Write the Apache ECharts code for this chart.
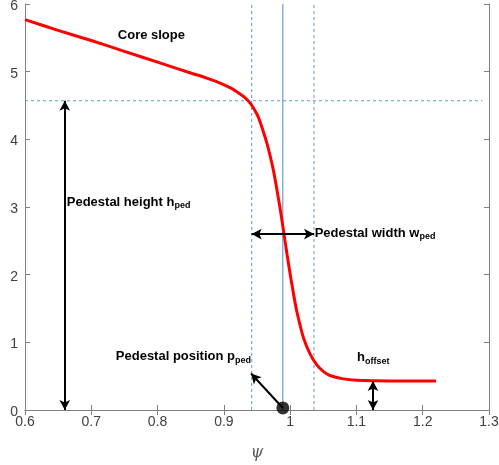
<!DOCTYPE html>
<html>
<head>
<meta charset="utf-8">
<script src="https://cdn.jsdelivr.net/npm/echarts@6/dist/echarts.min.js"></script>
<style>
  html, body { margin: 0; padding: 0; background: #fff; }
  #chart { width: 499px; height: 465px; }
</style>
</head>
<body>
<div id="chart"></div>
<script>
// profile
var psi = [0.60, 0.65, 0.70, 0.75, 0.80, 0.85, 0.87, 0.89, 0.91, 0.92, 0.93, 0.94, 0.95, 0.955, 0.96, 0.965, 0.97, 0.975, 0.98, 0.985, 0.99, 0.995, 1.00, 1.005, 1.01, 1.02, 1.03, 1.04, 1.05, 1.06, 1.08, 1.10, 1.15, 1.22];
var profile = [5.77, 5.61, 5.46, 5.30, 5.14, 4.98, 4.92, 4.85, 4.76, 4.70, 4.63, 4.53, 4.37, 4.25, 4.10, 3.94, 3.75, 3.53, 3.26, 2.97, 2.65, 2.32, 2.01, 1.72, 1.46, 1.07, 0.83, 0.67, 0.57, 0.51, 0.46, 0.44, 0.43, 0.43];

var xTicks = [0.6, 0.7, 0.8, 0.9, 1.0, 1.1, 1.2, 1.3];
var yTicks = [0, 1, 2, 3, 4, 5, 6];

var pedPos = 0.989;
var pedLeft = 0.942;
var pedRight = 1.036;
var pedHeight = 4.57;
var hOffset = 0.43;
var hLineEnd = 1.29;
var heightArrowX = 0.66;
var widthArrowY = 2.6;
var offsetArrowX = 1.125;
var posArrowTip = [0.941, 0.54];

var labels = [
  { name: 'core', at: [0.740, 5.53], text: '{a|Core slope}' },
  { name: 'height', at: [0.663, 3.07], text: '{a|Pedestal height h}{s|ped}' },
  { name: 'width', at: [1.037, 2.61], text: '{a|Pedestal width w}{s|ped}' },
  { name: 'position', at: [0.737, 0.79], text: '{a|Pedestal position p}{s|ped}' },
  { name: 'offset', at: [1.101, 0.77], text: '{a|h}{s|offset}' }
];

var axisGray = '#808080';
var labelGray = '#404040';
var blue = '#5b9bd5';

var myChart = echarts.init(document.getElementById('chart'));

var lineData = [];
for (var i = 0; i < psi.length; i++) lineData.push([psi[i], profile[i]]);

// guide lines as plain two-point series
function guide(pts, type, color) {
  return {
    type: 'line', data: pts, showSymbol: false, silent: true, z: 1,
    lineStyle: { color: color, width: 1, type: type }
  };
}

var option = {
  animation: false,
  backgroundColor: '#fff',
  grid: { left: 25, right: 10, top: 4, bottom: 55, containLabel: false, outerBoundsMode: 'none' },
  xAxis: [{
    type: 'value', min: xTicks[0], max: xTicks[xTicks.length - 1], interval: 0.1,
    name: 'ψ', nameLocation: 'middle', nameGap: 35,
    nameTextStyle: { fontFamily: 'DejaVu Serif', fontStyle: 'italic', fontSize: 16, color: '#555' },
    axisLine: { show: true, lineStyle: { color: axisGray } },
    axisTick: { inside: true, length: 5, lineStyle: { color: axisGray } },
    axisLabel: { color: labelGray, fontFamily: 'Liberation Sans', fontSize: 14, margin: 5,
      formatter: function (v) { return String(+v.toFixed(1)); } },
    splitLine: { show: false }
  }, {
    type: 'value', position: 'top', min: xTicks[0], max: xTicks[xTicks.length - 1], interval: 0.1,
    axisLine: { show: true, lineStyle: { color: axisGray } },
    axisTick: { inside: true, length: 5, lineStyle: { color: axisGray } },
    axisLabel: { show: false }, splitLine: { show: false }
  }],
  yAxis: [{
    type: 'value', min: yTicks[0], max: yTicks[yTicks.length - 1], interval: 1,
    axisLine: { show: true, lineStyle: { color: axisGray } },
    axisTick: { inside: true, length: 5, lineStyle: { color: axisGray } },
    axisLabel: { color: labelGray, fontFamily: 'Liberation Sans', fontSize: 14, margin: 7,
      formatter: function (v) { return '{v|' + v + '}'; },
      rich: { v: { color: labelGray, fontFamily: 'Liberation Sans', fontSize: 14, padding: [4, 0, 0, 0] } } },
    splitLine: { show: false }
  }, {
    type: 'value', position: 'right', min: yTicks[0], max: yTicks[yTicks.length - 1], interval: 1,
    axisLine: { show: true, lineStyle: { color: axisGray } },
    axisTick: { inside: true, length: 5, lineStyle: { color: axisGray } },
    axisLabel: { show: false }, splitLine: { show: false }
  }],
  series: [
    guide([[pedLeft, 0], [pedLeft, 6]], [3, 3], blue),
    guide([[pedRight, 0], [pedRight, 6]], [3, 3], blue),
    guide([[0.6, pedHeight], [hLineEnd, pedHeight]], [3, 3], blue),
    guide([[pedPos, 0], [pedPos, 6]], 'solid', '#4a8ccb'),
    {
      type: 'line', data: lineData, showSymbol: false, smooth: 0.2,
      lineStyle: { color: '#ff0000', width: 3 }, z: 3,
      markPoint: {
        symbol: 'circle', symbolSize: 0, silent: true,
        data: labels.map(function (l) {
          return {
            coord: l.at, value: l.name,
            label: {
              show: true, position: 'right', distance: 0,
              formatter: l.text,
              rich: {
                a: { fontFamily: 'Liberation Sans', fontWeight: 'bold', fontSize: 13, color: '#000', lineHeight: 16 },
                s: { fontFamily: 'Liberation Sans', fontWeight: 'bold', fontSize: 9, color: '#000', verticalAlign: 'bottom', padding: [7, 0, 0, 0], lineHeight: 16 }
              }
            }
          };
        })
      }
    },
    {
      // arrows
      type: 'line', data: [], silent: true, z: 4,
      markLine: {
        silent: true, animation: false, symbolSize: [8, 10],
        label: { show: false },
        lineStyle: { color: '#000', width: 2, type: 'solid' },
        data: [
          [{ coord: [heightArrowX, 0], symbol: 'arrow' }, { coord: [heightArrowX, pedHeight], symbol: 'arrow' }],
          [{ coord: [pedLeft, widthArrowY], symbol: 'arrow' }, { coord: [pedRight, widthArrowY], symbol: 'arrow' }],
          [{ coord: [offsetArrowX, 0], symbol: 'arrow' }, { coord: [offsetArrowX, hOffset], symbol: 'arrow' }],
          [{ coord: [pedPos, 0.03], symbol: 'none' }, { coord: posArrowTip, symbol: 'arrow' }]
        ]
      }
    },
    {
      type: 'scatter', data: [[pedPos, 0.03]], symbol: 'circle', symbolSize: 13,
      itemStyle: { color: '#000' }, clip: false, z: 5
    }
  ]
};

myChart.setOption(option);
</script>
</body>
</html>
